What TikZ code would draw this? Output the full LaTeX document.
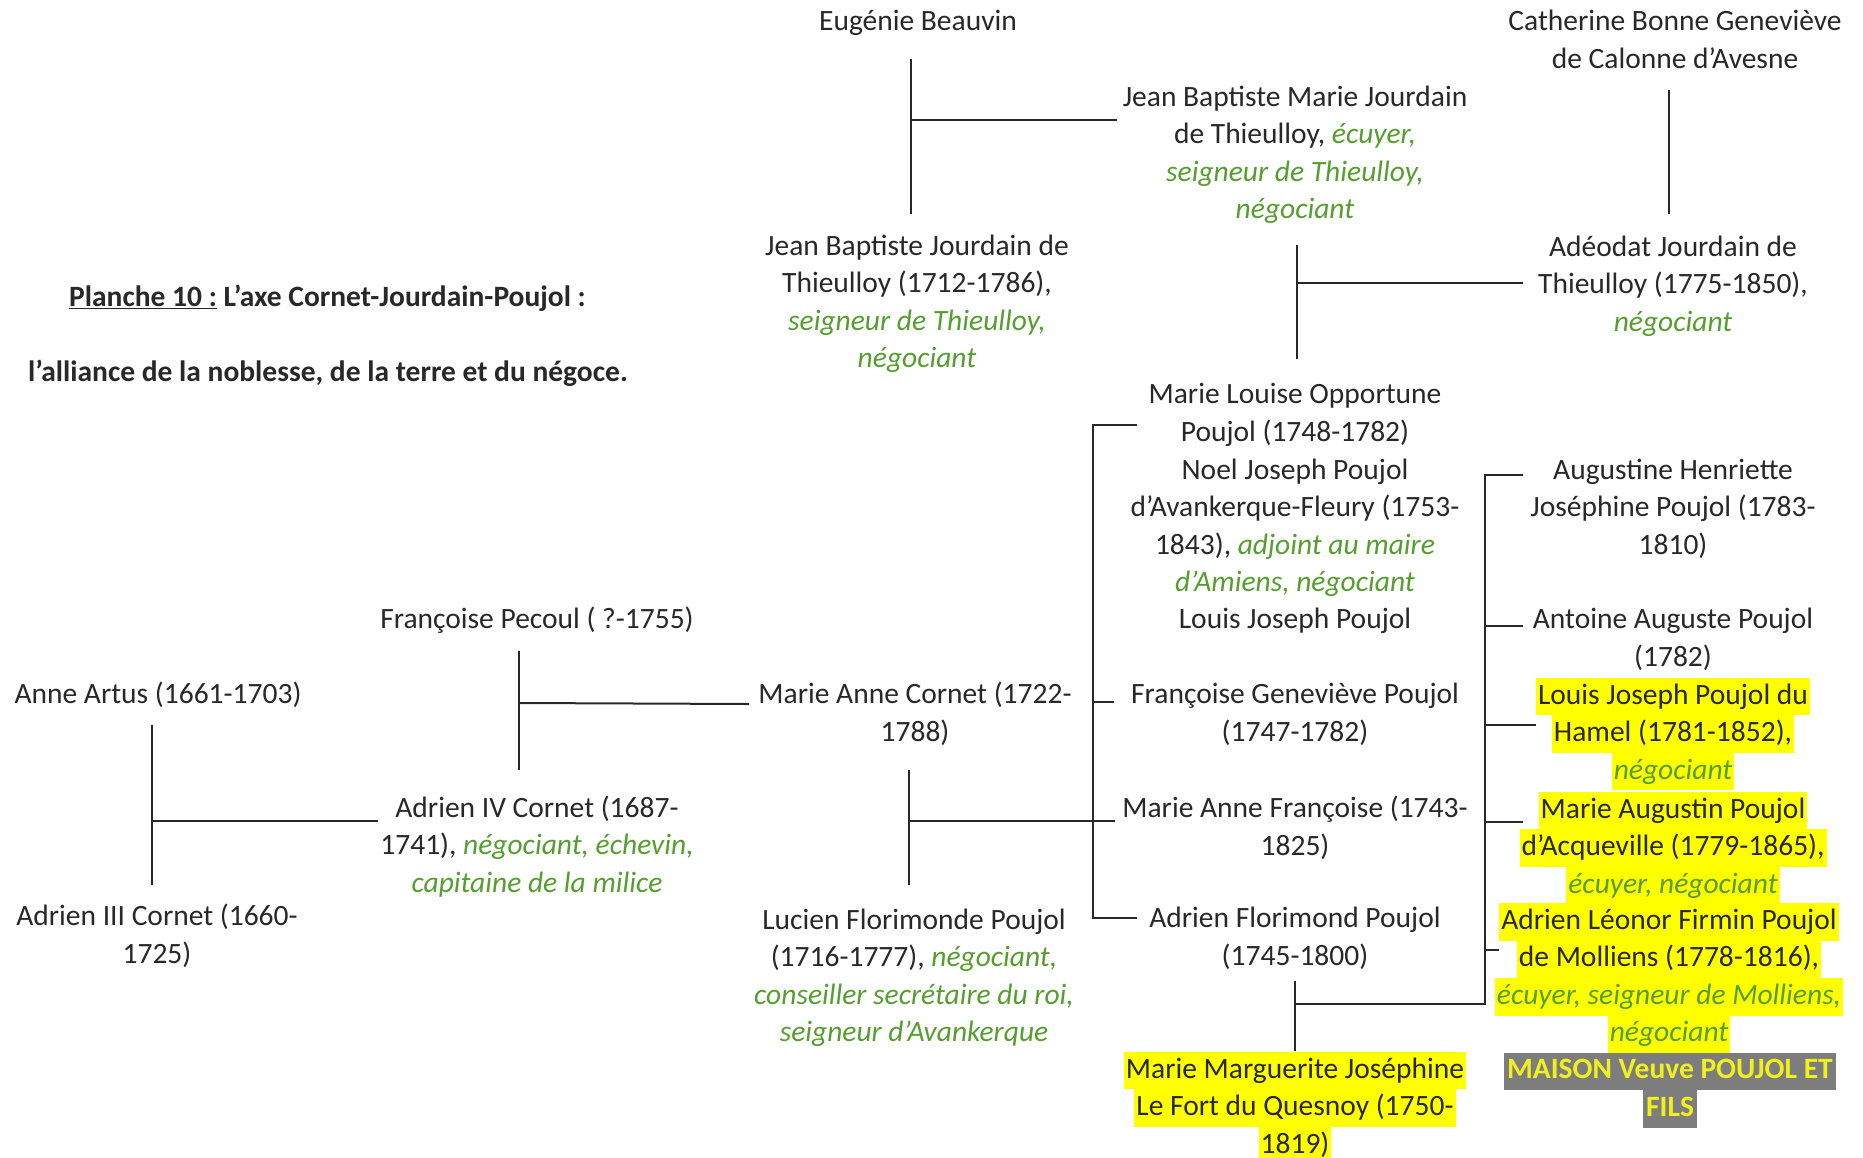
\documentclass[tikz,border=0pt]{standalone}
\usepackage{fontspec}
\setmainfont{Carlito}
\usepackage{xcolor}
\definecolor{txt}{RGB}{40,40,40}
\definecolor{grn}{RGB}{86,158,48}
\definecolor{hly}{RGB}{255,255,0}
\definecolor{gbox}{RGB}{125,125,125}
\definecolor{maisontxt}{RGB}{240,240,30}
\newcommand{\gr}[1]{{\color{grn}\itshape #1}}
\newcommand{\hlx}[1]{{\setlength{\fboxsep}{0pt}\colorbox{hly}{\strut\hspace{2pt}#1\hspace{2pt}}}}
\newcommand{\gbx}[1]{{\setlength{\fboxsep}{0pt}\colorbox{gbox}{\strut\hspace{3pt}\color{maisontxt}\bfseries #1\hspace{3pt}}}}
\begin{document}
\begin{tikzpicture}[x=1pt,y=-1pt,
  person/.style={align=center, inner sep=0pt, text=txt, font=\fontsize{29.5}{37.5}\selectfont},
  titletext/.style={anchor=west, inner sep=0pt, text=txt, font=\fontsize{29.5}{37.5}\selectfont\bfseries},
  link/.style={draw=txt, line width=2pt}]
\fill[white] (0,0) rectangle (1863,1158);
\useasboundingbox (0,0) rectangle (1863,1158);

% title
\node[titletext] (t1) at (69,299) {\strut\underline{Planche 10 :} L’axe Cornet-Jourdain-Poujol :};
\node[titletext] (t2) at (28,374) {\strut l’alliance de la noblesse, de la terre et du négoce.};

% top generation
\node[person] (eug) at (918,23) {\strut Eugénie Beauvin};
\node[person] (cat) at (1675,42) {\strut Catherine Bonne Geneviève\\\strut de Calonne d’Avesne};
\node[person] (jbm) at (1295,155) {\strut Jean Baptiste Marie Jourdain\\\strut de Thieulloy, \gr{écuyer,}\\\strut\gr{seigneur de Thieulloy,}\\\strut\gr{négociant}};
\node[person] (jbj) at (917,304) {\strut Jean Baptiste Jourdain de\\\strut Thieulloy (1712-1786),\\\strut\gr{seigneur de Thieulloy,}\\\strut\gr{négociant}};
\node[person] (ade) at (1673,286) {\strut Adéodat Jourdain de\\\strut Thieulloy (1775-1850),\\\strut\gr{négociant}};

% Poujol children
\node[person] (mlo) at (1295,415) {\strut Marie Louise Opportune\\\strut Poujol (1748-1782)};
\node[person] (noel) at (1295,528) {\strut Noel Joseph Poujol\\\strut d’Avankerque-Fleury (1753-\\\strut 1843), \gr{adjoint au maire}\\\strut\gr{d’Amiens, négociant}};
\node[person] (ljp) at (1295,621) {\strut Louis Joseph Poujol};
\node[person] (fgp) at (1295,715) {\strut Françoise Geneviève Poujol\\\strut (1747-1782)};
\node[person] (maf) at (1295,829) {\strut Marie Anne Françoise (1743-\\\strut 1825)};
\node[person] (afp) at (1295,939) {\strut Adrien Florimond Poujol\\\strut (1745-1800)};
\node[person] (mmj) at (1295,1108) {\hlx{Marie Marguerite Joséphine}\\\hlx{Le Fort du Quesnoy (1750-}\\\hlx{1819)}};

% Cornet / Poujol parents
\node[person] (mac) at (915,715) {\strut Marie Anne Cornet (1722-\\\strut 1788)};
\node[person] (lfp) at (914,978) {\strut Lucien Florimonde Poujol\\\strut (1716-1777), \gr{négociant,}\\\strut\gr{conseiller secrétaire du roi,}\\\strut\gr{seigneur d’Avankerque}};
\node[person] (fpe) at (537,621) {\strut Françoise Pecoul ( ?-1755)};
\node[person] (aar) at (158,696) {\strut Anne Artus (1661-1703)};
\node[person] (a4c) at (537,847) {\strut Adrien IV Cornet (1687-\\\strut 1741), \gr{négociant, échevin,}\\\strut\gr{capitaine de la milice}};
\node[person] (a3c) at (157,937) {\strut Adrien III Cornet (1660-\\\strut 1725)};

% grandchildren
\node[person] (ahj) at (1673,509) {\strut Augustine Henriette\\\strut Joséphine Poujol (1783-\\\strut 1810)};
\node[person] (aap) at (1673,640) {\strut Antoine Auguste Poujol\\\strut (1782)};
\node[person] (ljh) at (1673,734) {\hlx{Louis Joseph Poujol du}\\\hlx{Hamel (1781-1852),}\\\hlx{\gr{négociant}}};
\node[person] (map) at (1673,848) {\hlx{Marie Augustin Poujol}\\\hlx{d’Acqueville (1779-1865),}\\\hlx{\gr{écuyer, négociant}}};
\node[person] (alf) at (1669,978) {\hlx{Adrien Léonor Firmin Poujol}\\\hlx{de Molliens (1778-1816),}\\\hlx{\gr{écuyer, seigneur de Molliens,}}\\\hlx{\gr{négociant}}};
\node[person] (mvp) at (1670,1090) {\gbx{MAISON Veuve POUJOL ET}\\\gbx{FILS}};

% connectors: Beauvin x Jourdain
\coordinate (c1t) at (911,59);
\coordinate (c1b) at (911,214);
\coordinate (c1m) at (911,120);
\coordinate (c1r) at (1117,120);
\draw[link] (c1t) -- (c1b);
\draw[link] (c1m) -- (c1r);
% Calonne
\coordinate (c2t) at (1669,90);
\coordinate (c2b) at (1669,214);
\draw[link] (c2t) -- (c2b);
% Jourdain x Poujol
\coordinate (c3t) at (1297,245);
\coordinate (c3b) at (1297,359);
\coordinate (c3m) at (1297,283);
\coordinate (c3r) at (1523,283);
\draw[link] (c3t) -- (c3b);
\draw[link] (c3m) -- (c3r);
% Poujol siblings bracket
\coordinate (s0t) at (1093,425);
\coordinate (s0b) at (1093,918);
\coordinate (s1) at (1137,425);
\coordinate (s2a) at (1093,702);
\coordinate (s2) at (1114,702);
\coordinate (s3) at (1137,918);
\draw[link] (s1) -- (s0t) -- (s0b) -- (s3);
\draw[link] (s2a) -- (s2);
% Cornet x Poujol
\coordinate (l1t) at (909,770);
\coordinate (l1b) at (909,885);
\coordinate (m1l) at (909,821);
\coordinate (m1r) at (1115,821);
\draw[link] (l1t) -- (l1b);
\draw[link] (m1l) -- (m1r);
% Pecoul x Cornet
\coordinate (p1t) at (519,651);
\coordinate (p1b) at (519,770);
\coordinate (p1m) at (519,703);
\coordinate (p1r) at (749,704);
\draw[link] (p1t) -- (p1b);
\draw[link] (p1m) -- (p1r);
% Artus x Cornet
\coordinate (a1t) at (152,725);
\coordinate (a1b) at (152,885);
\coordinate (a1m) at (152,821);
\coordinate (a1r) at (378,821);
\draw[link] (a1t) -- (a1b);
\draw[link] (a1m) -- (a1r);
% grandchildren bracket
\coordinate (r0t) at (1485,475);
\coordinate (r0b) at (1485,1004);
\coordinate (r1) at (1523,475);
\coordinate (r2a) at (1485,626);
\coordinate (r2) at (1523,626);
\coordinate (r3a) at (1485,725);
\coordinate (r3) at (1536,725);
\coordinate (r4a) at (1485,822);
\coordinate (r4) at (1523,822);
\coordinate (r5a) at (1485,950);
\coordinate (r5) at (1499,950);
\coordinate (rb) at (1295,1004);
\coordinate (rvt) at (1295,981);
\coordinate (rvb) at (1295,1051);
\draw[link] (r1) -- (r0t) -- (r0b) -- (rb);
\draw[link] (r2a) -- (r2);
\draw[link] (r3a) -- (r3);
\draw[link] (r4a) -- (r4);
\draw[link] (r5a) -- (r5);
\draw[link] (rvt) -- (rvb);
\end{tikzpicture}
\end{document}
